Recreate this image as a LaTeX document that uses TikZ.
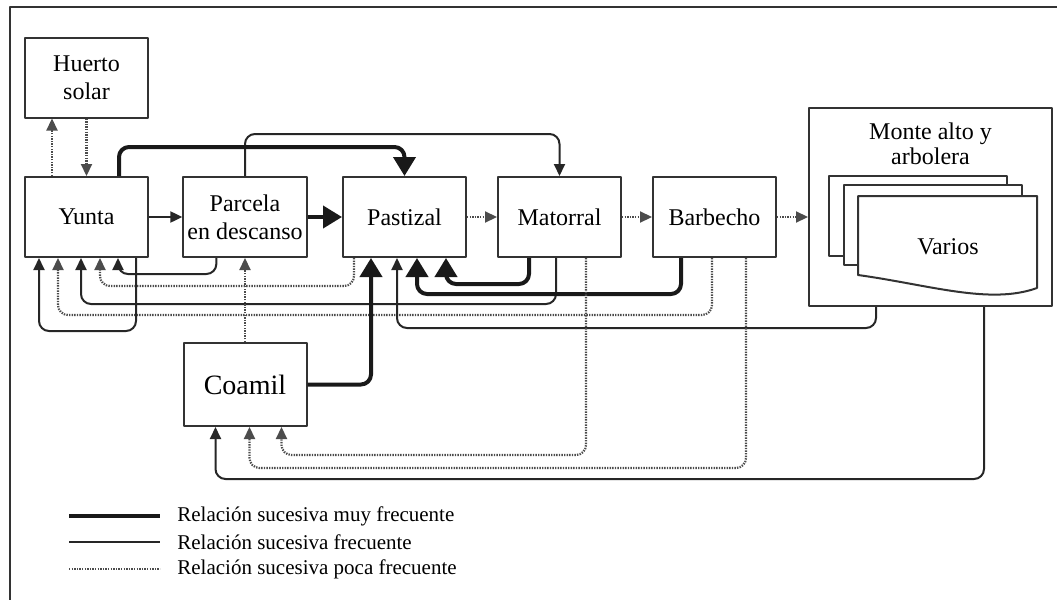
\documentclass[tikz,border=0pt]{standalone}
\usepackage{fontspec}
\setmainfont{Liberation Serif}
\usepackage{tikz}
\usetikzlibrary{calc,arrows.meta}

\begin{document}
\begin{tikzpicture}[x=0.5pt, y=-0.5pt, line join=round,
    box/.style={draw=black!80, line width=1pt, fill=white, align=center, inner sep=2pt,
        minimum width=61.5pt, minimum height=40pt, font=\fontsize{12}{14}\selectfont},
    muy/.style={draw=black!90, line width=2pt, rounded corners=5pt, -{Triangle[length=9.5pt,width=11pt]}},
    frec/.style={draw=black!85, line width=1pt, rounded corners=5pt, -{Triangle[length=6pt,width=5.5pt]}},
    poca/.style={draw=black!70, line width=1.1pt, dash pattern=on 0.7pt off 0.6pt, rounded corners=5pt, -{Triangle[length=6pt,width=5.5pt]}},
    leyenda/.style={anchor=west, inner sep=0pt, font=\fontsize{10.5}{12.6}\selectfont}]

    \useasboundingbox (0,0) rectangle (1057,600);
    % frame
    \draw[line width=1.2pt, black!80] (10,600) -- (10,7) -- (1057,7);

    % boxes
    \node[box] (huerto) at (86.5,77.5) {Huerto\\solar};
    \node[box] (yunta) at (86.5,217) {Yunta};
    \node[box] (parcela) at (245,217) {Parcela\\en descanso};
    \node[box] (pastizal) at (404.5,217) {Pastizal};
    \node[box] (matorral) at (559.5,217) {Matorral};
    \node[box] (barbecho) at (714.5,217) {Barbecho};
    \node[box, minimum height=41.5pt, font=\fontsize{14}{16}\selectfont] (coamil) at (245,384.5) {Coamil};

    % monte alto y arbolera
    \node[box, minimum width=121.5pt, minimum height=99pt] (monte) at (930.5,207) {};
    \node[align=center, font=\fontsize{12}{12.5}\selectfont] (monte_txt) at ($(monte.north)+(0,37)$)
    {Monte alto y\\arbolera};
    \filldraw[fill=white, draw=black!80, line width=1pt] (829,176) rectangle (1007,256);
    \filldraw[fill=white, draw=black!80, line width=1pt] (844,185) rectangle (1022,265);
    \filldraw[fill=white, draw=black!80, line width=1pt] (858,196) -- (1037,196) -- (1037,288)
        .. controls (990,305) and (930,285) .. (858,275) -- cycle;
    \node[font=\fontsize{12}{14}\selectfont] (varios) at (948,247) {Varios};

    % top connections
    \draw[poca] ($(yunta.north west)+(28,0)$) -- ($(huerto.south west)+(28,0)$);
    \draw[poca] (huerto.south) -- (yunta.north);
    \draw[frec] (parcela.north) -- ++(0,-42) -| (matorral.north);
    \draw[muy] ($(yunta.north west)+(95,0)$) -- ++(0,-29) -| (pastizal.north);

    % horizontal chain
    \draw[frec] (yunta.east) -- (parcela.west);
    \draw[muy] (parcela.east) -- (pastizal.west);
    \draw[poca] (pastizal.east) -- (matorral.west);
    \draw[poca] (matorral.east) -- (barbecho.west);
    \draw[poca] (barbecho.east) -- (barbecho.east -| monte.west);

    % back to yunta
    \draw[frec] ($(parcela.south west)+(34,0)$) -- ++(0,16) -| ($(yunta.south west)+(94,0)$);
    \draw[poca] ($(pastizal.south west)+(12,0)$) -- ++(0,28) -| ($(yunta.south west)+(76,0)$);
    \draw[frec] ($(matorral.south west)+(59,0)$) -- ++(0,46) -| ($(yunta.south west)+(57,0)$);
    \draw[poca] ($(barbecho.south west)+(60,0)$) -- ++(0,57) -| ($(yunta.south west)+(34,0)$);
    \draw[frec] ($(yunta.south west)+(112,0)$) -- ++(0,73) -| ($(yunta.south west)+(15,0)$);

    % back to pastizal
    \draw[muy] (coamil.east) -| ($(pastizal.south west)+(29,0)$);
    \draw[frec] ($(monte.south west)+(68,0)$) -- ++(0,21) -| ($(pastizal.south west)+(55,0)$);
    \draw[muy] ($(barbecho.south west)+(29,0)$) -- ++(0,36) -| ($(pastizal.south west)+(75,0)$);
    \draw[muy] ($(matorral.south west)+(32,0)$) -- ++(0,26) -| ($(pastizal.south west)+(104,0)$);

    % coamil
    \draw[poca] (coamil.north) -- (parcela.south);
    \draw[frec] ($(monte.south west)+(176,0)$) -- ++(0,172) -| ($(coamil.south west)+(33,0)$);
    \draw[poca] ($(barbecho.south west)+(94,0)$) -- ++(0,210) -| ($(coamil.south west)+(67,0)$);
    \draw[poca] ($(matorral.south west)+(89,0)$) -- ++(0,197) -| ($(coamil.south west)+(99,0)$);

    % legend
    \node[leyenda] (ley_muy) at (177,516) {Relación sucesiva muy frecuente};
    \node[leyenda] (ley_frec) at (177,542) {Relación sucesiva frecuente};
    \node[leyenda] (ley_poca) at (177,569) {Relación sucesiva poca frecuente};
    \draw[line width=2pt, black!90] ($(ley_muy.west)+(-108,0)$) -- ++(91,0);
    \draw[line width=1pt, black!85] ($(ley_frec.west)+(-108,0)$) -- ++(91,0);
    \draw[line width=1.1pt, black!70, dash pattern=on 0.7pt off 0.6pt] ($(ley_poca.west)+(-108,0)$) -- ++(91,0);

\end{tikzpicture}
\end{document}
